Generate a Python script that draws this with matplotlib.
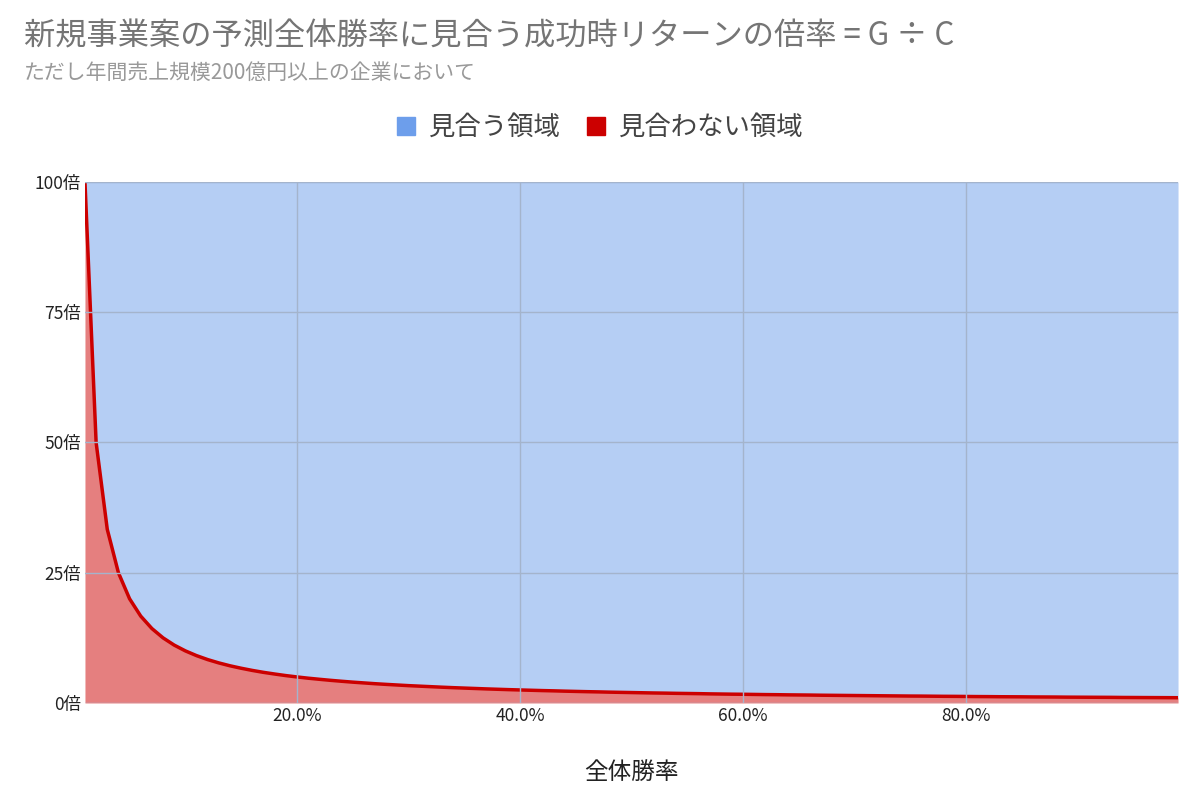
import matplotlib
matplotlib.use("Agg")
import matplotlib.pyplot as plt
from matplotlib.patches import Patch
from matplotlib.ticker import FuncFormatter

plt.rcParams['font.family'] = ['Noto Sans CJK JP', 'DejaVu Sans']

# 全体勝率 (%)
win_rate = list(range(1, 100))
# 見合わない領域 (倍)
ng = [100, 50, 33.33, 25, 20, 16.67, 14.29, 12.5, 11.11, 10,
      9.09, 8.33, 7.69, 7.14, 6.67, 6.25, 5.88, 5.56, 5.26, 5,
      4.76, 4.55, 4.35, 4.17, 4, 3.85, 3.70, 3.57, 3.45, 3.33,
      3.23, 3.13, 3.03, 2.94, 2.86, 2.78, 2.70, 2.63, 2.56, 2.5,
      2.44, 2.38, 2.33, 2.27, 2.22, 2.17, 2.13, 2.08, 2.04, 2,
      1.96, 1.92, 1.89, 1.85, 1.82, 1.79, 1.75, 1.72, 1.69, 1.67,
      1.64, 1.61, 1.59, 1.56, 1.54, 1.52, 1.49, 1.47, 1.45, 1.43,
      1.41, 1.39, 1.37, 1.35, 1.33, 1.32, 1.30, 1.28, 1.27, 1.25,
      1.23, 1.22, 1.20, 1.19, 1.18, 1.16, 1.15, 1.14, 1.12, 1.11,
      1.10, 1.09, 1.08, 1.06, 1.05, 1.04, 1.03, 1.02, 1.01]
# 見合う領域 (stacked on top, total 100倍)
ok = [100 - v for v in ng]

BLUE, RED = "#6d9eeb", "#cc0000"

fig = plt.figure(figsize=(12, 8.07), dpi=100)
ax = fig.add_axes([0.0708, 0.1289, 0.9109, 0.6456])
top = [a + b for a, b in zip(ng, ok)]
ax.fill_between(win_rate, ng, top, color=BLUE, alpha=0.5, lw=0)
ax.plot(win_rate, top, color=BLUE, lw=1.5)
ax.fill_between(win_rate, 0, ng, color=RED, alpha=0.5, lw=0)
ax.plot(win_rate, ng, color=RED, lw=2.5)

ax.set_xlim(1, 99)
ax.set_ylim(0, 100)
ax.set_xticks([20, 40, 60, 80])
ax.set_xticklabels(["20.0%", "40.0%", "60.0%", "80.0%"], fontsize=12.5, color="#222222")
ax.set_yticks([0, 25, 50, 75, 100])
ax.yaxis.set_major_formatter(FuncFormatter(lambda v, _: f"{int(v)}倍"))
ax.tick_params(length=0, labelsize=12.5, colors="#222222", pad=3)
ax.grid(True, color="#a4b4cc", lw=1)
ax.set_axisbelow(False)
for s in ax.spines.values():
    s.set_visible(False)
ax.set_xlabel("全体勝率", fontsize=17, color="#222222", labelpad=26)

fig.text(0.02, 0.955, "新規事業案の予測全体勝率に見合う成功時リターンの倍率 = G ÷ C",
         fontsize=22.5, color="#757575", va="center")
fig.text(0.02, 0.91, "ただし年間売上規模200億円以上の企業において",
         fontsize=15, color="#999999", va="center")
handles = [Patch(color=BLUE, label="見合う領域"), Patch(color=RED, label="見合わない領域")]
fig.legend(handles=handles, loc="center", bbox_to_anchor=(0.5, 0.842), ncol=2,
           frameon=False, fontsize=19, handlelength=0.7, handleheight=0.7,
           columnspacing=1.0, handletextpad=0.5, labelcolor="#444444")

fig.savefig("out.png", dpi=100)
